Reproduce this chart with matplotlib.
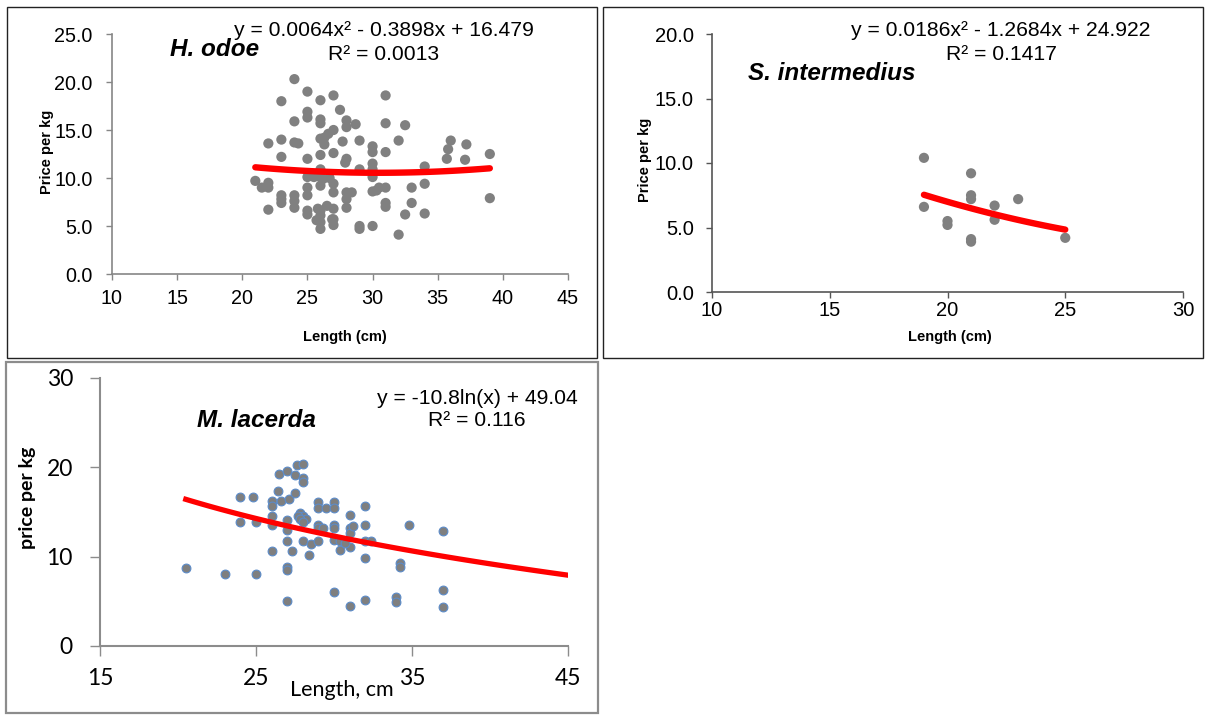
import numpy as np
import matplotlib
matplotlib.use("Agg")
import matplotlib.pyplot as plt
from matplotlib.patches import Rectangle

# ---------------- data ----------------
# H. odoe (length cm, price per kg)
odoe_x = [21, 21.5, 22, 22, 22, 22,
          23, 23, 23, 23, 23, 23,
          24, 24, 24, 24.3, 24, 24, 24,
          25, 25, 25, 25, 25, 25, 25, 25, 25,
          26, 26, 26, 26, 26, 26, 26, 26, 26, 25.7, 26, 25.5,
          26.3, 26.3, 26.5, 26.7, 26.2, 25.8, 26, 26,
          27, 27, 26.6, 27, 27, 27, 27, 27, 27, 26.9,
          27.5, 27.7, 28, 28, 28, 28, 28, 28, 28.4, 27.9,
          28.7, 29, 29, 29, 29,
          30, 30, 30, 30, 30, 30, 30, 30.5, 30.3,
          31, 31, 31, 31, 31, 31,
          32, 32, 32.5, 32.5,
          33, 33,
          34, 34, 34,
          35.7, 35.8, 36,
          37.1, 37.2,
          39, 39]
odoe_y = [9.7, 9.0, 9.5, 9.0, 13.6, 6.7,
          18.0, 14.0, 12.2, 8.2, 7.8, 7.4,
          20.3, 15.9, 13.7, 13.6, 8.2, 7.6, 6.9,
          19.0, 16.9, 16.3, 12.0, 10.1, 9.0, 8.2, 6.6, 6.2,
          18.1, 16.1, 15.7, 14.1, 12.4, 10.9, 10.1, 9.2, 6.6, 5.6, 4.7, 10.1,
          14.2, 13.5, 7.1, 10.0, 9.9, 6.8, 6.1, 5.4,
          18.6, 15.0, 14.6, 12.6, 9.4, 8.5, 6.8, 5.7, 5.1, 5.7,
          17.1, 13.8, 16.0, 15.3, 12.0, 8.5, 7.8, 6.9, 8.5, 11.6,
          15.6, 13.9, 10.9, 5.0, 4.7,
          13.3, 12.7, 11.5, 10.9, 10.1, 8.6, 5.0, 9.0, 8.7,
          18.6, 15.7, 12.7, 9.0, 7.4, 7.0,
          13.9, 4.1, 15.5, 6.2,
          9.0, 7.4,
          11.2, 9.4, 6.3,
          12.0, 13.0, 13.9,
          11.9, 13.5,
          12.5, 7.9]
odoe_coef = [0.0064, -0.3898, 16.479]
odoe_range = [21, 39]

# S. intermedius
inter_x = [19, 19, 20, 20, 21, 21, 21, 21, 21, 22, 22, 23, 25]
inter_y = [10.4, 6.6, 5.5, 5.2, 9.2, 7.5, 7.2, 4.1, 3.9, 6.7, 5.6, 7.2, 4.2]
inter_coef = [0.0186, -1.2684, 24.922]
inter_range = [19, 25]

# M. lacerda
lac_x = [20.5, 23, 25, 24, 24, 24.8, 25,
         26, 26, 26, 26, 26, 26.4, 26.5, 26.6,
         27, 27.1, 27, 27, 27, 27, 27, 27, 27.3,
         27.5, 27.5, 27.6, 28, 28, 28,
         27.8, 28, 27.7, 28.2, 27.8, 28, 28, 28.4, 28.5,
         29, 29, 29, 29, 29, 29.5, 29.3,
         30, 30, 30, 30, 30, 30, 30.4, 30.4,
         31, 31, 31, 31, 31, 30.7, 31.2,
         32, 32, 32, 32.4, 32, 32,
         34, 34, 34.2, 34.2, 34.8,
         37, 37, 37]
lac_y = [8.7, 8.1, 8.1, 16.7, 13.9, 16.7, 13.9,
         16.2, 15.7, 14.5, 13.6, 10.6, 17.4, 19.3, 16.2,
         19.6, 16.4, 14.1, 13.0, 11.7, 8.8, 8.5, 5.0, 10.6,
         19.1, 17.1, 20.3, 20.4, 18.8, 18.4,
         14.9, 14.5, 14.5, 14.2, 14.2, 13.9, 11.7, 10.2, 11.4,
         16.1, 15.5, 13.5, 13.2, 11.7, 15.4, 13.2,
         16.1, 15.5, 13.5, 13.2, 11.9, 6.1, 11.7, 10.8,
         14.7, 13.2, 12.6, 11.1, 4.5, 11.5, 13.4,
         15.7, 13.6, 11.8, 11.8, 9.9, 5.2,
         5.5, 4.9, 9.3, 8.8, 13.6,
         12.9, 6.3, 4.4]
lac_a, lac_b = -10.8, 49.04
lac_range = [20.5, 45]

# ---------------- figure ----------------
W, H = 1205, 715
fig = plt.figure(figsize=(W / 100, H / 100), dpi=100)
fig.patch.set_facecolor("white")

def fx(px):
    return px / W

def fy(py):
    return 1 - py / H

# panel borders
fig.patches.append(Rectangle((fx(7), fy(358)), fx(590), 351 / H, transform=fig.transFigure,
                             fill=False, edgecolor="#222222", linewidth=1.0))
fig.patches.append(Rectangle((fx(603), fy(358)), fx(600), 351 / H, transform=fig.transFigure,
                             fill=False, edgecolor="#222222", linewidth=1.0))
fig.patches.append(Rectangle((fx(6), fy(713)), fx(592), 351 / H, transform=fig.transFigure,
                             fill=False, edgecolor="#8c8c8c", linewidth=1.6))

ARIAL = "Liberation Sans"
CAL = "Lato"

def style_axes(ax, spine_color, family, size, ticklen, xpad, ypad):
    for s in ["top", "right"]:
        ax.spines[s].set_visible(False)
    for s in ["left", "bottom"]:
        ax.spines[s].set_color(spine_color)
        ax.spines[s].set_linewidth(1.2)
    ax.tick_params(direction="out", length=ticklen, width=1.0, color=spine_color,
                   labelsize=size, labelcolor="black")
    ax.tick_params(axis="x", pad=xpad)
    ax.tick_params(axis="y", pad=ypad)
    for lab in ax.get_xticklabels() + ax.get_yticklabels():
        lab.set_fontfamily(family)

EQ = 15.2
SP = 17.5

# Panel 1: H. odoe
ax1 = fig.add_axes([fx(112), fy(274), fx(456), 240 / H])
ax1.scatter(odoe_x, odoe_y, s=54, color="#808080", edgecolors="none", zorder=2)
xx = np.linspace(odoe_range[0], odoe_range[1], 100)
ax1.plot(xx, np.polyval(odoe_coef, xx), color="#ff0000", lw=4.6, solid_capstyle="round", zorder=3)
ax1.set_xlim(10, 45)
ax1.set_ylim(0, 25)
ax1.set_xticks([10, 15, 20, 25, 30, 35, 40, 45])
ax1.set_yticks([0, 5, 10, 15, 20, 25])
ax1.set_yticklabels([f"{v:.1f}" for v in [0, 5, 10, 15, 20, 25]])
style_axes(ax1, "#868686", ARIAL, 14.2, 4.5, 6.5, 9.5)
fig.text(fx(47), fy(152), "Price per kg", rotation=90, ha="center", va="center",
         fontfamily=ARIAL, fontweight="bold", fontsize=10.5)
fig.text(fx(345), fy(337), "Length (cm)", ha="center", va="center",
         fontfamily=ARIAL, fontweight="bold", fontsize=10.5)
fig.text(fx(384), fy(31), "y = 0.0064x² - 0.3898x + 16.479", ha="center", va="center",
         fontfamily=ARIAL, fontsize=EQ)
fig.text(fx(384), fy(55), "R² = 0.0013", ha="center", va="center", fontfamily=ARIAL, fontsize=EQ)
fig.text(fx(170), fy(49), "H. odoe", ha="left", va="center", fontfamily=ARIAL,
         fontweight="bold", fontstyle="italic", fontsize=SP)

# Panel 2: S. intermedius
ax2 = fig.add_axes([fx(712), fy(292), fx(471), 258 / H])
ax2.scatter(inter_x, inter_y, s=54, color="#808080", edgecolors="none", zorder=2)
xx = np.linspace(inter_range[0], inter_range[1], 100)
ax2.plot(xx, np.polyval(inter_coef, xx), color="#ff0000", lw=4.6, solid_capstyle="round", zorder=3)
ax2.set_xlim(10, 30)
ax2.set_ylim(0, 20)
ax2.set_xticks([10, 15, 20, 25, 30])
ax2.set_yticks([0, 5, 10, 15, 20])
ax2.set_yticklabels([f"{v:.1f}" for v in [0, 5, 10, 15, 20]])
style_axes(ax2, "#555555", ARIAL, 14.5, 4.5, 2, 8.5)
fig.text(fx(645), fy(160), "Price per kg", rotation=90, ha="center", va="center",
         fontfamily=ARIAL, fontweight="bold", fontsize=10.5)
fig.text(fx(950), fy(337), "Length (cm)", ha="center", va="center",
         fontfamily=ARIAL, fontweight="bold", fontsize=10.5)
fig.text(fx(1001), fy(31), "y = 0.0186x² - 1.2684x + 24.922", ha="center", va="center",
         fontfamily=ARIAL, fontsize=EQ)
fig.text(fx(1001), fy(55), "R² = 0.1417", ha="center", va="center", fontfamily=ARIAL, fontsize=EQ)
fig.text(fx(748), fy(73), "S. intermedius", ha="left", va="center", fontfamily=ARIAL,
         fontweight="bold", fontstyle="italic", fontsize=SP)

# Panel 3: M. lacerda
ax3 = fig.add_axes([fx(100), fy(646), fx(468), 268 / H])
ax3.scatter(lac_x, lac_y, s=40, color="#7f7f7f", edgecolors="#5b8bc9", linewidths=0.8, zorder=2)
xx = np.linspace(lac_range[0], lac_range[1], 100)
ax3.plot(xx, lac_a * np.log(xx) + lac_b, color="#ff0000", lw=3.8, zorder=3)
ax3.set_xlim(15, 45)
ax3.set_ylim(0, 30)
ax3.set_xticks([15, 25, 35, 45])
ax3.set_yticks([0, 10, 20, 30])
style_axes(ax3, "#8c8c8c", CAL, 16.5, 7, 9, 12.5)
ax3.spines["left"].set_linewidth(1.5)
ax3.spines["bottom"].set_linewidth(1.5)
fig.text(fx(27), fy(498), "price per kg", rotation=90, ha="center", va="center",
         fontfamily=CAL, fontweight="bold", fontsize=14)
fig.text(fx(342), fy(690), "Length, cm", ha="center", va="center", fontfamily=CAL, fontsize=15.5)
fig.text(fx(477), fy(398), "y = -10.8ln(x) + 49.04", ha="center", va="center",
         fontfamily=ARIAL, fontsize=EQ)
fig.text(fx(477), fy(421), "R² = 0.116", ha="center", va="center", fontfamily=ARIAL, fontsize=EQ)
fig.text(fx(197), fy(421), "M. lacerda", ha="left", va="center", fontfamily=ARIAL,
         fontweight="bold", fontstyle="italic", fontsize=SP)

fig.savefig("out.png", dpi=100, facecolor="white")
